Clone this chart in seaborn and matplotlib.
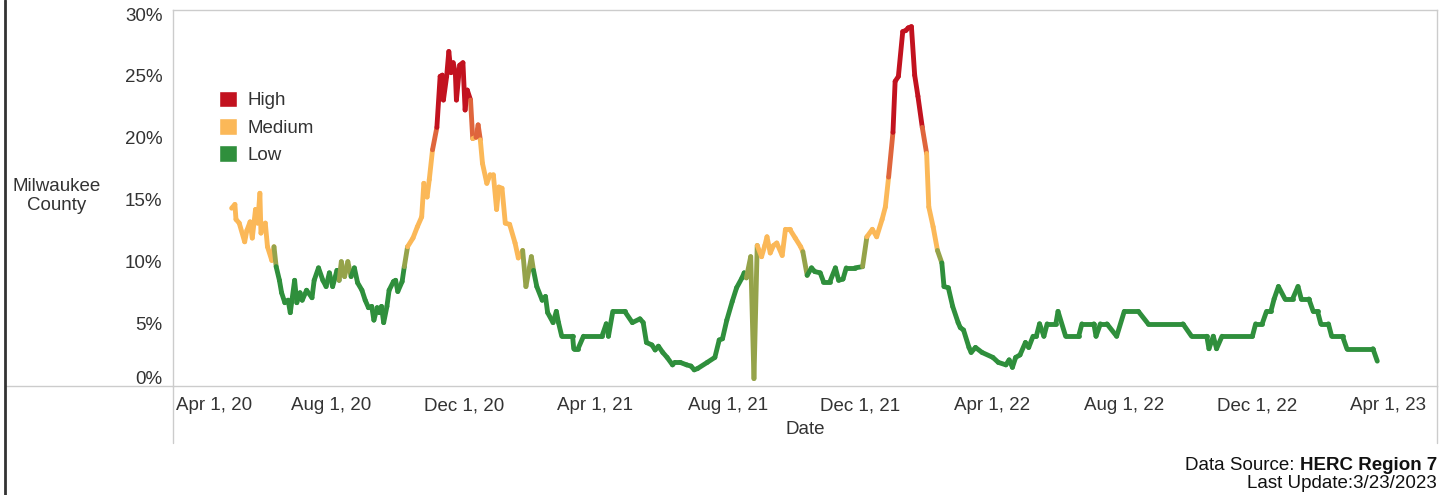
import numpy as np
import pandas as pd
import matplotlib
matplotlib.use("Agg")
import matplotlib.pyplot as plt
from matplotlib.lines import Line2D
from matplotlib.patches import Patch
from matplotlib.colors import to_rgb
from matplotlib.transforms import ScaledTranslation
import seaborn as sns

# Milwaukee County, daily share (%)
dates = [
    "2020-05-01", "2020-05-04", "2020-05-05", "2020-05-08", "2020-05-13", "2020-05-15",
    "2020-05-18", "2020-05-20", "2020-05-23", "2020-05-25", "2020-05-27", "2020-05-28",
    "2020-06-01", "2020-06-03", "2020-06-07", "2020-06-09", "2020-06-11", "2020-06-14",
    "2020-06-16", "2020-06-19", "2020-06-22", "2020-06-24", "2020-06-28", "2020-06-30",
    "2020-07-03", "2020-07-05", "2020-07-09", "2020-07-14", "2020-07-16", "2020-07-20",
    "2020-07-24", "2020-07-27", "2020-07-30", "2020-08-02", "2020-08-06", "2020-08-08",
    "2020-08-10", "2020-08-13", "2020-08-16", "2020-08-19", "2020-08-22", "2020-08-25",
    "2020-08-29", "2020-09-01", "2020-09-04", "2020-09-07", "2020-09-09", "2020-09-12",
    "2020-09-14", "2020-09-16", "2020-09-18", "2020-09-21", "2020-09-23", "2020-09-27",
    "2020-09-29", "2020-10-01", "2020-10-05", "2020-10-07", "2020-10-10", "2020-10-15",
    "2020-10-19", "2020-10-23", "2020-10-25", "2020-10-28", "2020-10-30", "2020-11-02",
    "2020-11-06", "2020-11-09", "2020-11-11", "2020-11-12", "2020-11-15", "2020-11-17",
    "2020-11-19", "2020-11-21", "2020-11-23", "2020-11-24", "2020-11-27", "2020-11-30",
    "2020-12-02", "2020-12-04", "2020-12-07", "2020-12-09", "2020-12-12", "2020-12-14",
    "2020-12-16", "2020-12-18", "2020-12-22", "2020-12-25", "2020-12-28", "2020-12-31",
    "2021-01-02", "2021-01-05", "2021-01-08", "2021-01-12", "2021-01-17", "2021-01-20",
    "2021-01-24", "2021-01-27", "2021-02-01", "2021-02-03", "2021-02-06", "2021-02-11",
    "2021-02-14", "2021-02-16", "2021-02-21", "2021-02-24", "2021-02-26", "2021-03-01",
    "2021-03-11", "2021-03-12", "2021-03-16", "2021-03-21", "2021-04-07", "2021-04-11",
    "2021-04-13", "2021-04-17", "2021-04-28", "2021-05-05", "2021-05-12", "2021-05-15",
    "2021-05-18", "2021-05-23", "2021-05-26", "2021-05-29", "2021-06-02", "2021-06-06",
    "2021-06-11", "2021-06-13", "2021-06-18", "2021-06-24", "2021-06-28", "2021-07-01",
    "2021-07-04", "2021-07-13", "2021-07-20", "2021-07-24", "2021-07-27", "2021-07-31",
    "2021-08-05", "2021-08-09", "2021-08-14", "2021-08-16", "2021-08-18", "2021-08-22",
    "2021-08-25", "2021-08-28", "2021-09-01", "2021-09-04", "2021-09-06", "2021-09-09",
    "2021-09-12", "2021-09-15", "2021-09-20", "2021-09-23", "2021-09-27", "2021-10-02",
    "2021-10-07", "2021-10-09", "2021-10-13", "2021-10-17", "2021-10-20", "2021-10-25",
    "2021-10-28", "2021-11-03", "2021-11-08", "2021-11-11", "2021-11-15", "2021-11-18",
    "2021-11-26", "2021-12-03", "2021-12-07", "2021-12-12", "2021-12-16", "2021-12-21",
    "2021-12-24", "2021-12-27", "2021-12-31", "2022-01-02", "2022-01-05", "2022-01-09",
    "2022-01-12", "2022-01-14", "2022-01-17", "2022-01-20", "2022-01-23", "2022-01-27",
    "2022-01-31", "2022-02-02", "2022-02-06", "2022-02-10", "2022-02-14", "2022-02-16",
    "2022-02-20", "2022-02-24", "2022-03-01", "2022-03-03", "2022-03-06", "2022-03-11",
    "2022-03-13", "2022-03-17", "2022-03-23", "2022-04-02", "2022-04-07", "2022-04-14",
    "2022-04-17", "2022-04-20", "2022-04-23", "2022-04-27", "2022-05-02", "2022-05-05",
    "2022-05-09", "2022-05-12", "2022-05-15", "2022-05-19", "2022-05-22", "2022-05-30",
    "2022-06-01", "2022-06-08", "2022-06-20", "2022-06-23", "2022-07-04", "2022-07-06",
    "2022-07-10", "2022-07-16", "2022-07-25", "2022-08-01", "2022-08-14", "2022-08-23",
    "2022-09-24", "2022-10-02", "2022-10-16", "2022-10-18", "2022-10-22", "2022-10-25",
    "2022-10-30", "2022-11-27", "2022-11-30", "2022-12-06", "2022-12-10", "2022-12-14",
    "2022-12-17", "2022-12-21", "2022-12-27", "2023-01-03", "2023-01-08", "2023-01-11",
    "2023-01-18", "2023-01-22", "2023-01-26", "2023-01-29", "2023-02-05", "2023-02-08",
    "2023-02-18", "2023-02-22", "2023-03-18", "2023-03-22",
]
pct = [
    14.3, 14.6, 13.4, 13.1, 11.6, 12.5,
    13.2, 11.9, 14.2, 13.1, 15.5, 12.3,
    13.1, 11.2, 10.1, 11.2, 9.6, 8.5,
    7.5, 6.7, 6.9, 5.9, 8.5, 6.7,
    7.5, 6.9, 7.7, 7.1, 8.5, 9.5,
    8.5, 8.0, 9.1, 8.0, 9.3, 8.5,
    10.0, 8.8, 10.0, 8.8, 9.5, 8.3,
    7.7, 6.9, 6.3, 6.4, 5.3, 6.3,
    5.9, 6.4, 5.1, 6.4, 7.7, 8.4,
    8.5, 7.6, 8.4, 9.6, 11.2, 11.9,
    12.8, 13.6, 16.3, 15.2, 16.6, 19.0,
    20.8, 24.9, 25.0, 23.0, 24.9, 26.9,
    25.2, 26.0, 25.2, 23.0, 25.8, 26.0,
    22.2, 23.8, 23.0, 19.9, 20.0, 21.0,
    19.8, 17.9, 16.3, 17.0, 17.0, 14.2,
    16.0, 15.9, 13.1, 13.0, 11.5, 10.3,
    10.9, 8.0, 10.4, 9.3, 8.0, 6.9,
    7.2, 5.9, 5.1, 6.0, 5.1, 4.0,
    4.0, 3.0, 3.0, 4.0, 4.0, 5.0,
    4.0, 6.0, 6.0, 5.1, 5.4, 5.1,
    3.5, 3.3, 2.9, 3.2, 2.7, 2.3,
    1.7, 1.9, 1.9, 1.7, 1.6, 1.3,
    1.4, 1.9, 2.3, 3.7, 3.8, 5.3,
    6.8, 7.9, 8.7, 9.1, 8.7, 10.4,
    0.6, 11.3, 10.4, 11.3, 12.0, 10.7,
    11.3, 11.5, 10.5, 12.6, 12.6, 11.9,
    11.2, 10.8, 8.9, 9.5, 9.2, 9.1,
    8.4, 8.4, 9.5, 8.5, 8.6, 9.5,
    9.5, 9.6, 12.0, 12.6, 12.0, 13.4,
    14.4, 16.8, 20.4, 24.5, 24.9, 28.5,
    28.6, 28.8, 28.9, 25.0, 23.3, 20.8,
    18.7, 14.4, 12.8, 10.9, 9.9, 8.0,
    7.9, 6.4, 5.1, 4.7, 4.5, 3.1,
    2.7, 3.1, 2.7, 2.3, 1.9, 1.7,
    2.1, 1.5, 2.3, 2.5, 3.5, 3.1,
    4.0, 4.0, 5.0, 4.0, 5.0, 5.0,
    6.0, 4.0, 4.0, 5.0, 5.0, 4.0,
    5.0, 5.0, 4.0, 6.0, 6.0, 5.0,
    5.0, 4.0, 4.0, 3.0, 4.0, 3.0,
    4.0, 4.0, 5.0, 5.0, 6.0, 6.0,
    7.0, 8.0, 7.0, 7.0, 8.0, 7.0,
    7.0, 6.0, 6.0, 5.0, 5.0, 4.0,
    4.0, 3.0, 3.0, 2.0,
]

levels = ["High", "Medium", "Low"]
level_colors = {"High": "#c2121f", "Medium": "#fbb858", "Low": "#2f8f3c"}
y_ticks = [0, 5, 10, 15, 20, 25, 30]
x_major = pd.date_range("2020-04-01", "2023-04-01", freq="4MS")
x_minor = pd.date_range("2020-04-01", "2023-05-01", freq="MS")


def level_of(v):
    if v > 20:
        return "High"
    if v >= 10:
        return "Medium"
    return "Low"


df = pd.DataFrame({"date": pd.to_datetime(dates), "pct": pct})
df["level"] = [level_of(v) for v in df.pct]

# one 2-point piece per step so each piece can carry its own colour
rows = []
palette = {}
for i in range(len(df) - 1):
    a, b = df.iloc[i], df.iloc[i + 1]
    seg = f"s{i:03d}"
    ca = np.array(to_rgb(level_colors[a.level]))
    cb = np.array(to_rgb(level_colors[b.level]))
    palette[seg] = tuple((ca + cb) / 2)
    rows.append({"seg": seg, "date": a.date, "pct": a.pct})
    rows.append({"seg": seg, "date": b.date, "pct": b.pct})
segs = pd.DataFrame(rows)

sns.set_style("white")
plt.rcParams["font.family"] = ["Liberation Sans", "DejaVu Sans"]

W, H = 1443, 495
FS = 13.5
fig = plt.figure(figsize=(W / 100, H / 100), dpi=100)
ax = fig.add_axes([173 / W, 1 - 386 / H, (1437 - 173) / W, (386 - 10) / H])

sns.lineplot(data=segs, x="date", y="pct", hue="seg", palette=palette,
             legend=False, estimator=None, sort=False, lw=3.5,
             solid_capstyle="round", ax=ax)

grey = "#cccccc"
txt = "#333333"
ax.set_xlim(pd.Timestamp("2020-03-08"), pd.Timestamp("2023-05-16"))
ax.set_ylim(0, 30.24)
ax.set_yticks(y_ticks)
ax.set_yticklabels([f"{v}%" for v in y_ticks])
ax.set_xticks(x_major)
ax.set_xticklabels([d.strftime("%b 1, %y") for d in x_major])
ax.set_xticks(x_minor, minor=True)
ax.tick_params(axis="y", length=5, width=1, color=grey, pad=2.5,
               labelsize=FS, labelcolor=txt)
ax.tick_params(axis="x", which="major", length=4, width=1, color=grey, pad=4,
               labelsize=FS, labelcolor=txt)
ax.tick_params(axis="x", which="minor", length=3.5, width=1, color=grey)
for s in ax.spines.values():
    s.set_color(grey)
    s.set_linewidth(1)
ax.set_xlabel("Date", fontsize=FS, color=txt, labelpad=5)
ax.set_ylabel("")

ax.legend(handles=[Patch(facecolor=level_colors[l], label=l) for l in levels],
          loc="upper left", bbox_to_anchor=((218 - 7) / W, 1 - (90 - 7) / H),
          bbox_transform=fig.transFigure, frameon=False, fontsize=FS,
          handlelength=1.0, handleheight=1.0, handletextpad=0.55,
          labelspacing=0.45, borderaxespad=0, labelcolor=txt)

fig.text(57 / W, 1 - 196 / H, "Milwaukee\nCounty", ha="center", va="center",
         fontsize=FS, color=txt, linespacing=1.1)

# pane borders that run past the plot area
fig.add_artist(Line2D([173 / W, 173 / W], [1 - 386 / H, 1 - 443 / H], color=grey, lw=1))
fig.add_artist(Line2D([1437 / W, 1437 / W], [1 - 386 / H, 1 - 443 / H], color=grey, lw=1))
fig.add_artist(Line2D([5 / W, 173 / W], [1 - 386 / H, 1 - 386 / H], color=grey, lw=1))
fig.add_artist(Line2D([5 / W, 5 / W], [0, 1], color="#333333", lw=2))

renderer = fig.canvas.get_renderer()
t_bold = fig.text(1437 / W, 1 - 465 / H, "HERC Region 7", ha="right", va="center",
                  fontsize=FS, fontweight="bold", color="#111111")
bw = t_bold.get_window_extent(renderer).width
fig.text((1437 - bw) / W, 1 - 465 / H, "Data Source: ", ha="right", va="center",
         fontsize=FS, color="#111111")
fig.text(1437 / W, 1 - 484 / H, "Last Update:3/23/2023", ha="right", va="center",
         fontsize=FS, color="#111111")

# edge labels are nudged inward to stay inside the pane
fig.canvas.draw()
lab0 = ax.xaxis.get_major_ticks()[0].label1
lab0.set_transform(lab0.get_transform() + ScaledTranslation(0.15, 0, fig.dpi_scale_trans))
yt = ax.yaxis.get_major_ticks()
yt[0].label1.set_transform(yt[0].label1.get_transform() + ScaledTranslation(0, 0.09, fig.dpi_scale_trans))
yt[-1].label1.set_transform(yt[-1].label1.get_transform() + ScaledTranslation(0, -0.02, fig.dpi_scale_trans))

fig.savefig("out.png", dpi=100)
